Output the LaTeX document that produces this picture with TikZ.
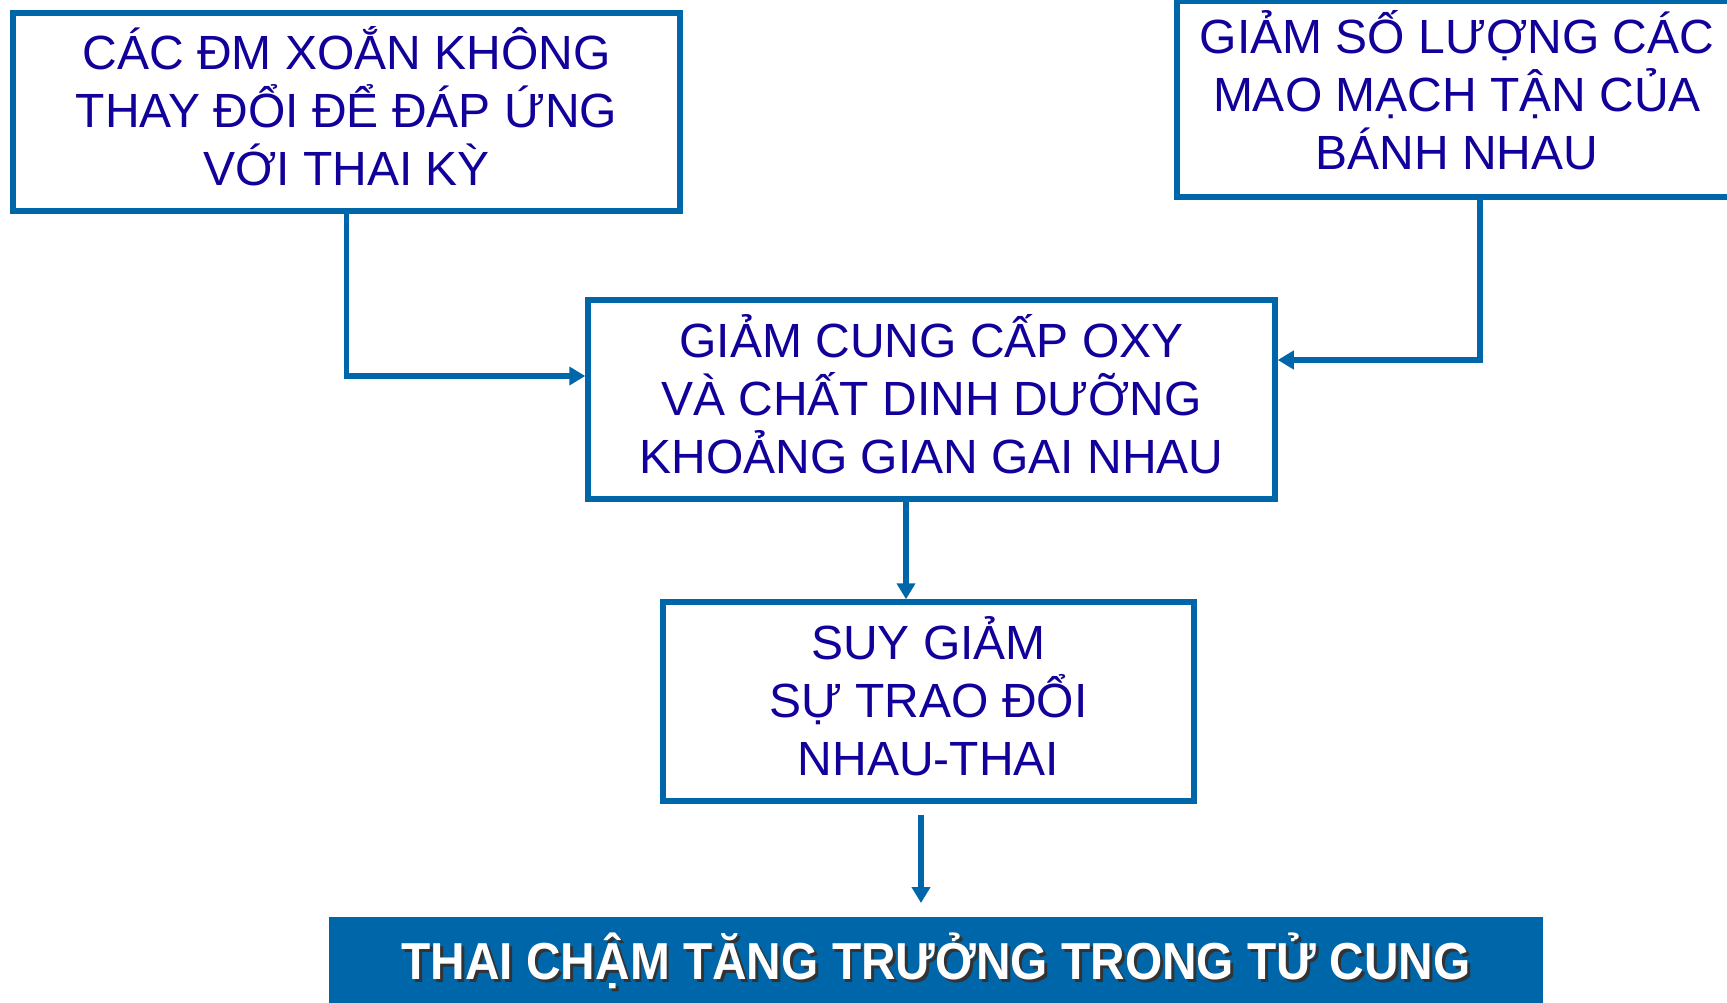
\documentclass[tikz,border=0pt]{standalone}
\usepackage{fontspec}
\setmainfont{Liberation Sans}
\usetikzlibrary{arrows.meta,calc}
\definecolor{boxblue}{RGB}{0,102,170}
\definecolor{txtblue}{RGB}{17,0,153}
\newcommand{\shadowed}[1]{\makebox[0pt][l]{\hspace{1.6pt}\raisebox{-1.6pt}{\color{black!80}#1}}#1}
\newcommand{\lifted}[2]{\raisebox{#1}[\height][\depth]{\vbox{\baselineskip=29pt\let\\\cr
    \halign{\hfil##\hfil\cr#2\crcr}}}}

\begin{document}
\begin{tikzpicture}[x=0.5pt,y=-0.5pt,
    box/.style={draw=boxblue,line width=2.75pt,fill=white,text=txtblue,
        font=\fontsize{24}{29}\selectfont,inner sep=0pt},
    link/.style={draw=boxblue,line width=2.75pt,-{Triangle[length=8pt,width=9pt]}}]
    \useasboundingbox (0,0) rectangle (1727,1002);
    \node[box,minimum width=333.5pt,minimum height=99pt] (B1) at (346.5,112)
        {\lifted{2.75pt}{CÁC ĐM XOẮN KHÔNG\\THAY ĐỔI ĐỂ ĐÁP ỨNG\\VỚI THAI KỲ}};
    \node[box,minimum width=280pt,minimum height=98pt] (B2) at (1457,99)
        {\lifted{4.5pt}{GIẢM SỐ LƯỢNG CÁC\\MAO MẠCH TẬN CỦA\\BÁNH NHAU}};
    \node[box,minimum width=343.5pt,minimum height=99.5pt] (B3) at (931.5,399.5)
        {\lifted{2.75pt}{GIẢM CUNG CẤP OXY\\VÀ CHẤT DINH DƯỠNG\\KHOẢNG GIAN GAI NHAU}};
    \node[box,minimum width=265.5pt,minimum height=99.5pt] (B4) at (928.5,701.5)
        {\lifted{2.75pt}{SUY GIẢM\\SỰ TRAO ĐỔI\\NHAU-THAI}};
    \node[fill=boxblue,minimum width=607pt,minimum height=45pt,inner sep=0pt,text=white,
        font=\bfseries\fontsize{26}{30}\selectfont] (IUGR) at (936,962)
        {\scalebox{0.92}[1]{\shadowed{THAI CHẬM TĂNG TRƯỞNG TRONG TỬ CUNG}}};
    % connectors
    \coordinate (L) at ($(B3.west)+(0,-23.5)$);
    \coordinate (R2) at ($(B2.south)+(23,0)$);
    \coordinate (R) at ($(B3.east)+(0,-39.5)$);
    \coordinate (M) at ($(B3.south)+(-25.5,0)$);
    \coordinate (A1) at (921,815);
    \coordinate (A2) at (921,903);
    \draw[link] (B1.south) |- (L);
    \draw[link] (R2) |- (R);
    \draw[link] (M) -- (M |- B4.north);
    \draw[link] (A1) -- (A2);
\end{tikzpicture}
\end{document}
